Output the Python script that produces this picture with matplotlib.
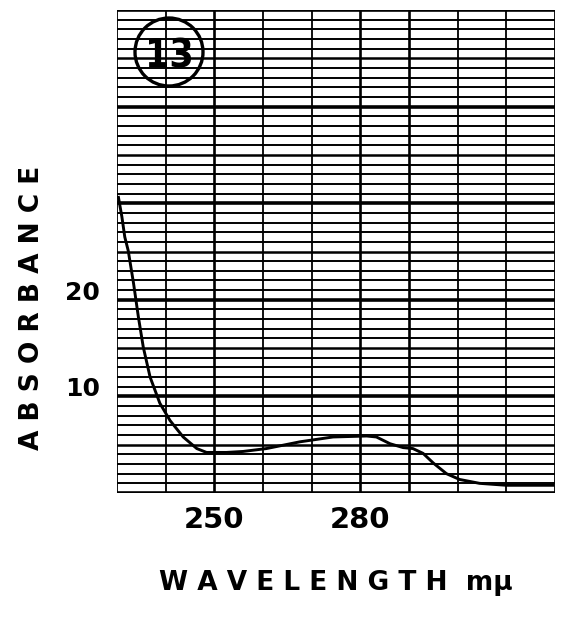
import numpy as np
import matplotlib
matplotlib.use('Agg')
import matplotlib.pyplot as plt
from matplotlib.patches import Ellipse

# Spectrum
wavelength = [230.3, 231.0, 231.6, 232.3, 233.4, 234.0, 234.4, 235.4, 236.8, 238.8,
              240.9, 243.6, 246.4, 248.4, 252.5, 255.9, 260.7, 267.6, 274.4, 281.3,
              283.3, 286.1, 288.8, 290.8, 292.9, 295.0, 297.7, 300.4, 304.5, 310.0, 319.6]
absorbance = [30.6, 28.6, 26.5, 25.1, 21.7, 19.6, 18.2, 15.1, 12.0, 9.3,
              7.5, 5.8, 4.6, 4.2, 4.2, 4.3, 4.6, 5.3, 5.8, 5.9,
              5.8, 5.1, 4.7, 4.6, 4.1, 3.1, 2.0, 1.4, 1.0, 0.8, 0.8]

x_ticks = [250, 280]
y_ticks = [10, 20]

fig = plt.figure(figsize=(5.61, 6.24), dpi=100)
ax = fig.add_axes([117/561, 1 - 493/624, 438/561, 483/624])
ax.set_xlim(230, 320)
ax.set_ylim(0, 50)

# chart paper grid
for yv in np.arange(0, 51, 1):
    lw = 2.6 if yv % 10 == 0 else (1.8 if yv % 5 == 0 else 1.4)
    ax.axhline(yv, color='black', lw=lw, zorder=1)
for xv in np.arange(230, 321, 10):
    lw = 1.9 if xv in (250, 280, 290) else 1.3
    ax.axvline(xv, color='black', lw=lw, zorder=1)

ax.plot(wavelength, absorbance, color='black', lw=2.1, zorder=3)

for s in ax.spines.values():
    s.set_visible(False)

ax.set_xticks(x_ticks)
ax.set_xticklabels([str(v) for v in x_ticks])
ax.set_yticks(y_ticks)
ax.set_yticklabels([str(v) for v in y_ticks])
ax.tick_params(axis='both', length=0)
ax.tick_params(axis='x', pad=9, labelsize=21)
ax.tick_params(axis='y', pad=12, labelsize=18)
for lab in ax.get_xticklabels() + ax.get_yticklabels():
    lab.set_fontweight('bold')
for lab in ax.get_yticklabels():
    lab.set_va('baseline')

fig.text(32/561, 1 - 308/624, 'A B S O R B A N C E', rotation=90,
         ha='center', va='center', fontsize=19, fontweight='bold')
fig.text(336/561, 1 - 583/624, 'W A V E L E N G T H  mμ',
         ha='center', va='center', fontsize=19, fontweight='bold')

# circled curve number
ax.add_patch(Ellipse((52/438, 1 - 42/483), 68/438, 68/483, transform=ax.transAxes,
                     fill=False, lw=2.4, color='black', zorder=4))
ax.text(52/438, 1 - 42/483, '13', transform=ax.transAxes, ha='center',
        va='center_baseline', fontsize=28, family='DejaVu Sans',
        fontstretch='condensed', fontweight='bold', zorder=4)

fig.savefig('out.png', dpi=100, facecolor='white')
